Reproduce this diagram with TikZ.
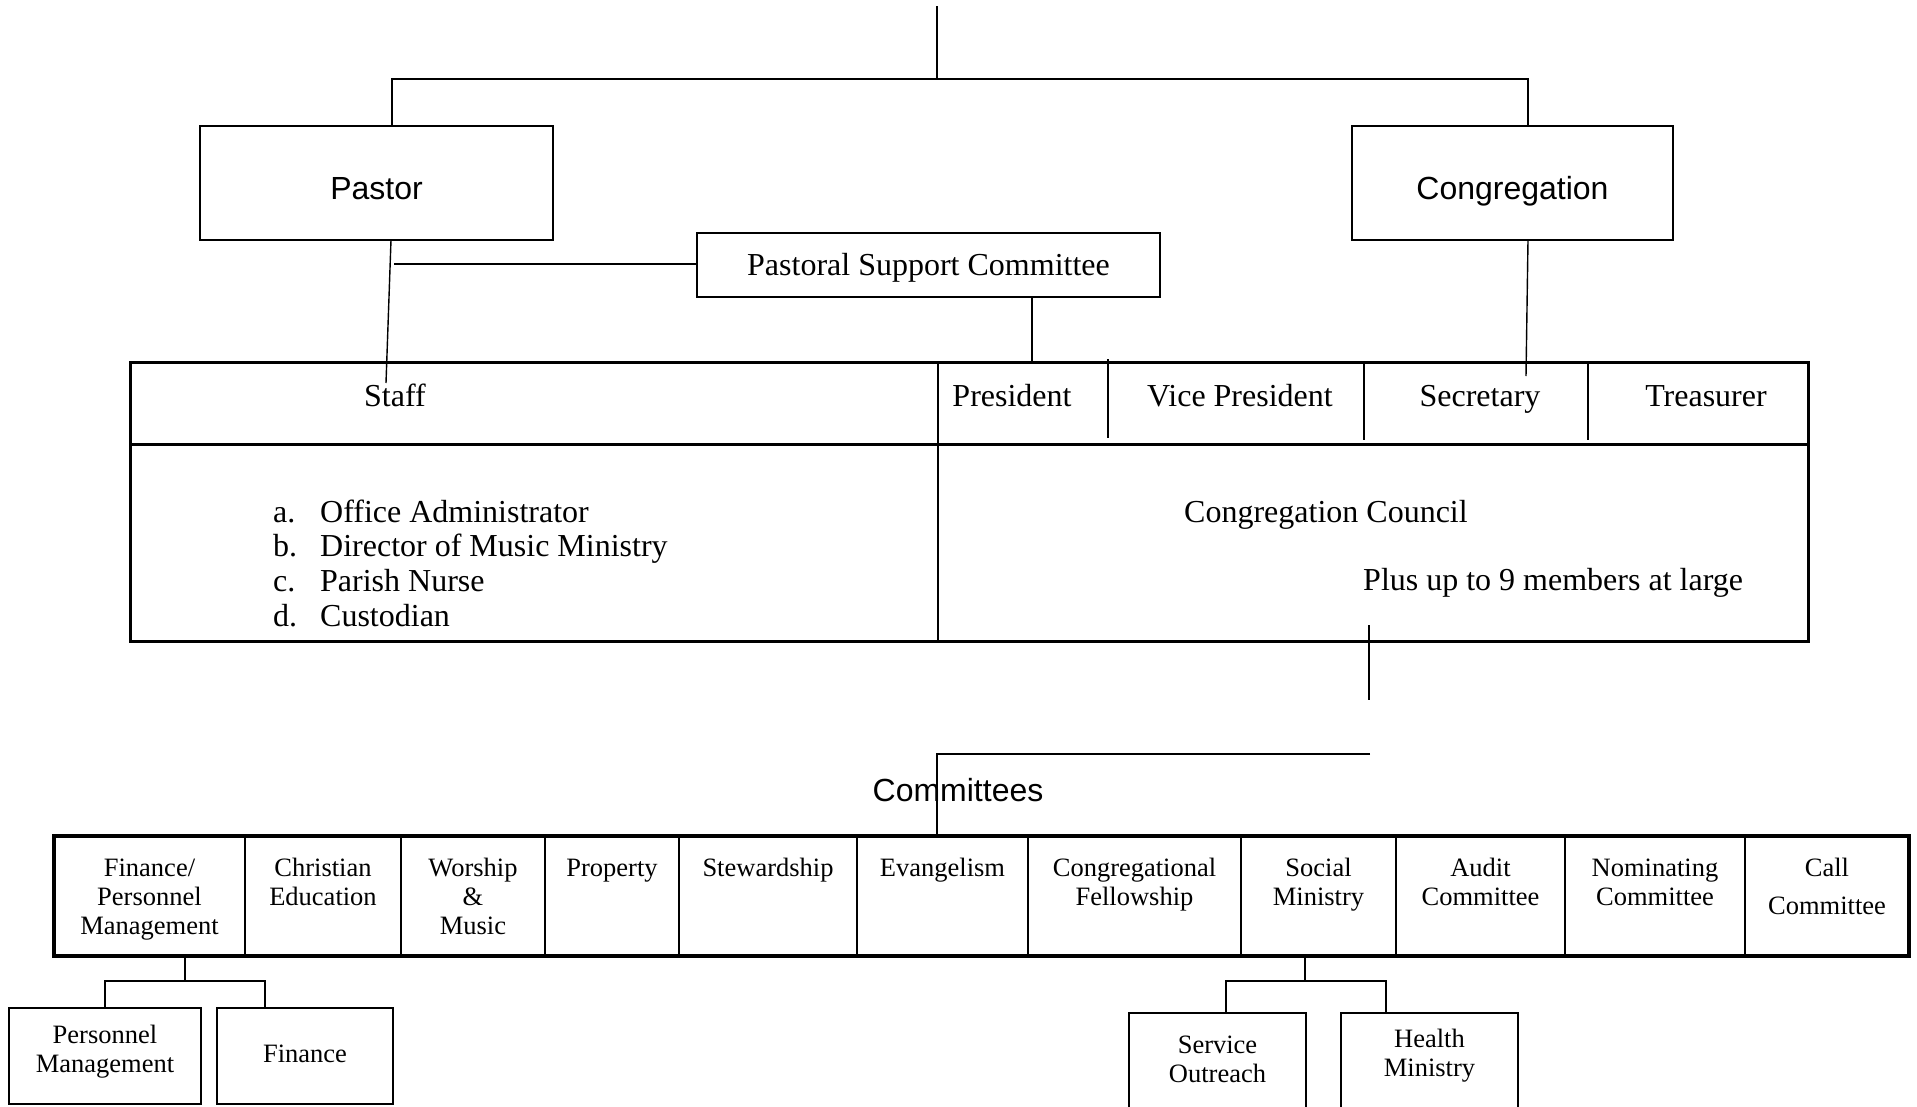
\documentclass[tikz,border=0pt]{standalone}
\usepackage{fontspec}
\setmainfont{Liberation Serif}
\newfontfamily\arialf{Liberation Sans}
\begin{document}
\begin{tikzpicture}[x=1pt,y=-1pt,
  conn/.style={line width=1.4pt},
  bigbox/.style={draw, line width=2pt, rectangle, inner sep=0pt, outer sep=0pt},
  sbox/.style={draw, line width=2pt, rectangle, inner sep=0pt, outer sep=0pt},
  hdr/.style={font=\arialf\fontsize{32}{38}\selectfont},
  tx/.style={inner sep=0pt, font=\fontsize{32}{34.7}\selectfont},
  stx/.style={inner sep=0pt, font=\fontsize{26.5}{29}\selectfont},
  ctext/.style={anchor=north, align=center, inner sep=0pt, font=\fontsize{26.5}{29}\selectfont},
  cell/.style={draw, line width=2.5pt, rectangle, inner sep=0pt, outer sep=0pt, minimum height=120pt},
  thickline/.style={line width=3pt},
  thinline/.style={line width=1.4pt}]
\useasboundingbox (0,0) rectangle (1917,1106);

% ---------- top boxes ----------
\node[bigbox, hdr, minimum width=353pt, minimum height=114pt, text height=32pt, text depth=0pt] (pastor) at (376.5,183) {Pastor};
\node[bigbox, hdr, minimum width=321pt, minimum height=114pt, text height=32pt, text depth=0pt] (cong) at (1512.5,183) {Congregation};
\node[bigbox, tx, minimum width=463pt, minimum height=64pt, text height=27pt, text depth=7pt] (psc) at (928.5,265) {Pastoral Support Committee};

% ---------- officers / staff table ----------
\draw[thickline] (130,362) rectangle (1808,641);
\draw[thickline] (130,444) -- (1808,444);
\draw[line width=2.2pt] (938,362) -- (938,641);
\draw[thinline] (1108,359) -- (1108,438);
\draw[thinline] (1364,363) -- (1364,440);
\draw[thinline] (1588,363) -- (1588,440);

\node[tx, anchor=base] (staff) at (395,406) {Staff};
\node[tx, anchor=base] (pres) at (1012,406) {President};
\node[tx, anchor=base] (vpres) at (1240,406) {Vice President};
\node[tx, anchor=base] (secr) at (1480,406) {Secretary};
\node[tx, anchor=base] (treas) at (1706,406) {Treasurer};

\node[tx, anchor=north west] (stafflist) at (273,497.7) {\begin{tabular}{@{}l@{\hspace{23pt}}l@{}}
a.&Office Administrator\\
b.&Director of Music Ministry\\
c.&Parish Nurse\\
d.&Custodian
\end{tabular}};
\node[tx, anchor=base west] (council) at (1184,522) {Congregation Council};
\node[tx, anchor=base west] (plus) at (1363,590) {Plus up to 9 members at large};

% ---------- connectors at top ----------
\coordinate (top) at (937,6);
\coordinate (topj) at (937,79);
\draw[conn] (top) -- (topj);
\draw[conn] ([xshift=15.5pt]pastor.north) |- (topj) -| ([xshift=15.5pt]cong.north);
\coordinate (staffend) at (386,383);
\draw[conn] ([xshift=14.5pt]pastor.south) -- (staffend);
\coordinate (pscend) at (394,264);
\draw[conn] (pscend -| psc.west) -- (pscend);
\coordinate (presend) at (1032,364);
\draw[conn] ([xshift=103.5pt]psc.south) -- (presend);
\coordinate (secend) at (1526,376);
\draw[conn] ([xshift=15.5pt]cong.south) -- (secend);

% ---------- committees ----------
\node[hdr, anchor=base, inner sep=0pt] (comlabel) at (958,801) {Committees};

\node[cell, minimum width=191pt] (c1) at (149.5,896) {};
\node[cell, minimum width=156pt] (c2) at (323,896) {};
\node[cell, minimum width=144pt] (c3) at (473,896) {};
\node[cell, minimum width=134pt] (c4) at (612,896) {};
\node[cell, minimum width=178pt] (c5) at (768,896) {};
\node[cell, minimum width=171pt] (c6) at (942.5,896) {};
\node[cell, minimum width=213pt] (c7) at (1134.5,896) {};
\node[cell, minimum width=155pt] (c8) at (1318.5,896) {};
\node[cell, minimum width=169pt] (c9) at (1480.5,896) {};
\node[cell, minimum width=180pt] (c10) at (1655,896) {};
\node[cell, minimum width=164pt] (c11) at (1827,896) {};
\draw[line width=3.3pt] (c1.north west) rectangle (c11.south east);

\node[ctext] (t1) at ([yshift=-19.7pt]c1.north) {\strut Finance/\\Personnel\\Management};
\node[ctext] (t2) at ([yshift=-19.7pt]c2.north) {\strut Christian\\Education};
\node[ctext] (t3) at ([yshift=-19.7pt]c3.north) {\strut Worship\\\&\\Music};
\node[ctext] (t4) at ([yshift=-19.7pt]c4.north) {\strut Property};
\node[ctext] (t5) at ([yshift=-19.7pt]c5.north) {\strut Stewardship};
\node[ctext] (t6) at ([yshift=-19.7pt]c6.north) {\strut Evangelism};
\node[ctext] (t7) at ([yshift=-19.7pt]c7.north) {\strut Congregational\\Fellowship};
\node[ctext] (t8) at ([yshift=-19.7pt]c8.north) {\strut Social\\Ministry};
\node[ctext] (t9) at ([yshift=-19.7pt]c9.north) {\strut Audit\\Committee};
\node[ctext] (t10) at ([yshift=-19.7pt]c10.north) {\strut Nominating\\Committee};
\node[ctext] (t11) at ([yshift=-19.7pt]c11.north) {\strut Call\\[9pt]Committee};

% council to committees
\coordinate (cdA) at (1369,625);
\coordinate (cdB) at (1369,700);
\draw[conn] (cdA) -- (cdB);
\coordinate (hjR) at (1370,754);
\draw[conn] (hjR) -| ([xshift=-5.5pt]c6.north);

% ---------- sub boxes ----------
\node[sbox, minimum width=192pt, minimum height=96pt] (pm) at (105,1056) {};
\node[sbox, minimum width=176pt, minimum height=96pt] (fin) at (305,1056) {};
\begin{scope}
\clip (0,0) rectangle (1917,1106);
\node[sbox, minimum width=177pt, minimum height=120pt] (so) at (1217.5,1073) {};
\node[sbox, minimum width=177pt, minimum height=120pt] (hm) at (1429.5,1073) {};
\end{scope}

\node[ctext] (pmt) at (105,1022.7) {\strut Personnel\\Management};
\node[stx, anchor=base] (fint) at (305,1062) {Finance};
\node[ctext] (sot) at (1217.5,1032.7) {\strut Service\\Outreach};
\node[ctext] (hmt) at (1429.5,1026.7) {\strut Health\\Ministry};

\draw[conn] ([xshift=35.5pt]c1.south) -- ++(0,25) coordinate (fj);
\draw[conn] (pm.north) |- (fj) -| ([xshift=-40pt]fin.north);
\draw[conn] ([xshift=-13.5pt]c8.south) -- ++(0,25) coordinate (sj);
\draw[conn] ([xshift=8.5pt]so.north) |- (sj) -| ([xshift=-43.5pt]hm.north);
\end{tikzpicture}
\end{document}
